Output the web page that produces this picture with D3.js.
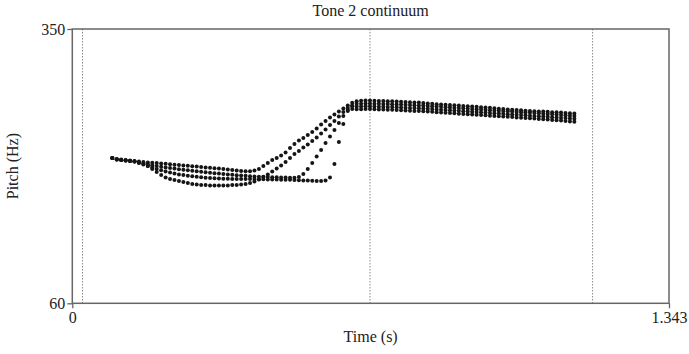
<!DOCTYPE html>
<html>
<head>
<meta charset="utf-8">
<script src="https://cdn.jsdelivr.net/npm/d3@7/dist/d3.min.js"></script>
<style>
  html, body { margin: 0; padding: 0; background: #fff; }
  svg { display: block; }
  text { font-family: "Liberation Serif", "Times New Roman", serif; fill: #222; }
</style>
</head>
<body>
<svg id="chart" width="689" height="354"></svg>
<script>
// Pitch tracks (Hz) of the four continuum steps, one value per 10 ms frame
const firstFrameTime = 0.09;   // s
const frameStep = 0.01;        // s

const step1 = [
  213.6, 212.5, 212.0, 211.5, 210.9, 210.4, 209.9, 209.4, 208.8, 208.5,
  208.3, 207.9, 207.5, 207.0, 206.6, 206.2, 205.8, 205.3, 204.9, 204.5,
  204.1, 203.7, 203.2, 202.8, 202.4, 201.9, 201.4, 200.9, 200.4, 199.8,
  199.5, 199.5, 200.4, 201.9, 205.1, 208.3, 211.5, 213.6, 216.3, 219.5,
  224.2, 228.4, 232.1, 234.8, 237.9, 241.1, 244.8, 249.0, 252.7, 256.4,
  259.6, 262.7, 265.9, 269.1, 272.0,
  273.5, 274.1, 274.3, 274.3, 274.1, 273.9, 273.8, 273.6, 273.5, 273.3,
  273.1, 272.8, 272.6, 272.4, 272.2, 271.8, 271.3, 270.9, 270.5, 270.2,
  269.9, 269.6, 269.3, 269.0, 268.6, 268.3, 268.0, 267.7, 267.4, 267.1,
  266.7, 266.2, 265.8, 265.4, 265.0, 264.7, 264.3, 264.0, 263.7, 263.4,
  263.1, 262.9, 262.7, 262.4, 262.1, 261.9, 261.6, 261.3, 260.9, 260.6
];

const step2 = [
  213.6, 212.0, 211.5, 210.9, 210.4, 209.9, 208.8, 207.2, 205.1, 201.9,
  198.8, 195.6, 193.0, 191.4, 190.3, 189.3, 188.2, 187.1, 186.1, 185.6,
  185.0, 185.0, 184.5, 184.5, 184.5, 184.5, 184.5, 185.0, 185.0, 185.6,
  186.1, 187.1, 188.7, 190.8, 193.5, 196.1, 199.3, 202.5, 205.7, 209.4,
  213.6, 217.8, 221.0, 224.7, 227.9, 231.6, 235.3, 239.5, 243.8, 248.5,
  252.7, 257.5, 262.2, 266.4, 269.1,
  271.1, 271.1, 271.3, 271.3, 271.1, 270.9, 270.8, 270.6, 270.5, 270.3,
  270.1, 269.8, 269.6, 269.4, 269.2, 269.0, 268.7, 268.4, 268.0, 267.7,
  267.4, 267.1, 266.8, 266.5, 266.1, 265.8, 265.5, 265.2, 264.9, 264.6,
  264.2, 263.9, 263.6, 263.3, 263.0, 262.7, 262.3, 262.0, 261.7, 261.4,
  261.1, 260.8, 260.4, 260.1, 259.8, 259.5, 259.2, 258.9, 258.4, 258.1
];

const step3 = [
  213.6, 212.0, 211.5, 210.9, 210.4, 209.9, 208.8, 207.8, 206.7, 205.9,
  205.1, 204.4, 203.7, 203.0, 202.4, 201.8, 201.1, 200.6, 200.1, 199.5,
  199.0, 198.5, 197.9, 197.5, 197.1, 196.7, 196.2, 195.8, 195.4, 195.1,
  194.8, 194.4, 194.1, 193.9, 193.7, 193.5, 193.3, 193.2, 193.1, 192.9,
  192.8, 192.8, 193.5, 196.7, 201.9, 208.3, 215.2, 222.0, 229.5, 236.3,
  243.2, 250.6, 258.0, 264.3, 268.0,
  268.1, 268.1, 268.3, 268.3, 268.1, 267.9, 267.8, 267.6, 267.5, 267.3,
  267.1, 266.8, 266.6, 266.4, 266.2, 266.0, 265.7, 265.4, 265.0, 264.7,
  264.4, 264.1, 263.8, 263.5, 263.1, 262.8, 262.5, 262.2, 261.9, 261.6,
  261.2, 260.9, 260.6, 260.3, 260.0, 259.7, 259.3, 259.0, 258.7, 258.4,
  258.1, 257.8, 257.4, 257.1, 256.8, 256.5, 256.2, 255.9, 255.4, 255.1
];

const step4 = [
  213.6, 212.0, 211.5, 210.9, 210.4, 209.9, 208.3, 206.7, 205.1, 203.5,
  201.9, 200.6, 199.3, 198.2, 197.2, 196.3, 195.6, 194.9, 194.2, 193.7,
  193.2, 192.7, 192.4, 192.1, 191.9, 191.7, 191.6, 191.5, 191.4, 191.4,
  191.4, 191.4, 191.4, 191.2, 191.1, 191.0, 190.9, 190.8, 190.7, 190.6,
  190.5, 190.3, 190.1, 189.9, 189.7, 189.5, 189.3, 189.3, 189.8, 193.0,
  207.2, 230.5, 249.5, 263.3, 265.5,
  265.1, 265.1, 265.3, 265.3, 265.1, 264.9, 264.8, 264.6, 264.5, 264.3,
  264.1, 263.8, 263.6, 263.4, 263.2, 263.0, 262.7, 262.4, 262.0, 261.7,
  261.4, 261.1, 260.8, 260.5, 260.1, 259.8, 259.7, 259.4, 259.1, 258.8,
  258.4, 258.1, 257.8, 257.5, 257.2, 256.9, 256.5, 256.2, 255.9, 255.6,
  255.3, 254.9, 254.5, 254.2, 253.8, 253.5, 253.2, 252.8, 252.3, 252.0
];

const contours = [step1, step2, step3, step4];

// Axis range and labelled ticks
const timeRange = [0, 1.343];
const pitchRange = [60, 350];
const timeTickLabels = ["0", "1.343"];
const pitchTickLabels = ["60", "350"];

// Dotted segment boundaries (s)
const boundaries = [0.023, 0.670, 1.171];

const chartTitle = "Tone 2 continuum";
const xTitle = "Time (s)";
const yTitle = "Pitch (Hz)";

// ---- drawing ----
const svg = d3.select("#chart");
const plotLeft = 72.3, plotRight = 669, plotTop = 29, plotBottom = 303.3;

const x = d3.scaleLinear().domain(timeRange).range([plotLeft, plotRight]);
const y = d3.scaleLinear().domain(pitchRange).range([plotBottom, plotTop]);

// boundary markers
svg.append("g")
  .selectAll("line")
  .data(boundaries)
  .join("line")
  .attr("x1", d => x(d)).attr("x2", d => x(d))
  .attr("y1", plotTop).attr("y2", plotBottom)
  .attr("stroke", "#8a8a8a")
  .attr("stroke-width", 1)
  .attr("stroke-dasharray", "1.5,1.5");

// pitch points
const points = [];
contours.forEach((c, k) => c.forEach((hz, i) => {
  points.push({ t: firstFrameTime + i * frameStep, hz, k });
}));

svg.append("g")
  .selectAll("circle")
  .data(points)
  .join("circle")
  .attr("cx", d => x(d.t))
  .attr("cy", d => y(d.hz))
  .attr("r", 2)
  .attr("fill", "#151515");

// frame
svg.append("rect")
  .attr("x", plotLeft).attr("y", plotTop)
  .attr("width", plotRight - plotLeft).attr("height", plotBottom - plotTop)
  .attr("fill", "none")
  .attr("stroke", "#666")
  .attr("stroke-width", 1.5);

// axes: only the two end ticks, as labelled
const yAxis = d3.axisLeft(y)
  .tickValues(pitchRange)
  .tickFormat((d, i) => pitchTickLabels[i])
  .tickSize(5).tickPadding(2);
const gy = svg.append("g").attr("transform", `translate(${plotLeft},0)`).call(yAxis);
gy.select(".domain").remove();
gy.selectAll(".tick line").attr("stroke", "#666").attr("stroke-width", 1.3);
gy.selectAll(".tick text")
  .attr("font-family", "Liberation Serif, serif")
  .attr("font-size", 16).attr("fill", "#222");

const xAxis = d3.axisBottom(x)
  .tickValues(timeRange)
  .tickFormat((d, i) => timeTickLabels[i])
  .tickSize(5).tickPadding(3);
const gx = svg.append("g").attr("transform", `translate(0,${plotBottom})`).call(xAxis);
gx.select(".domain").remove();
gx.selectAll(".tick line").attr("stroke", "#666").attr("stroke-width", 1.3);
gx.selectAll(".tick text")
  .attr("font-family", "Liberation Serif, serif")
  .attr("font-size", 16).attr("fill", "#222");

// titles
svg.append("text")
  .attr("x", (plotLeft + plotRight) / 2).attr("y", 12)
  .attr("text-anchor", "middle").attr("dominant-baseline", "middle")
  .attr("font-size", 16)
  .text(chartTitle);

svg.append("text")
  .attr("x", (plotLeft + plotRight) / 2).attr("y", 338)
  .attr("text-anchor", "middle").attr("dominant-baseline", "middle")
  .attr("font-size", 16)
  .text(xTitle);

svg.append("text")
  .attr("transform", `translate(14,${(plotTop + plotBottom) / 2}) rotate(-90)`)
  .attr("text-anchor", "middle").attr("dominant-baseline", "middle")
  .attr("font-size", 16)
  .text(yTitle);
</script>
</body>
</html>
